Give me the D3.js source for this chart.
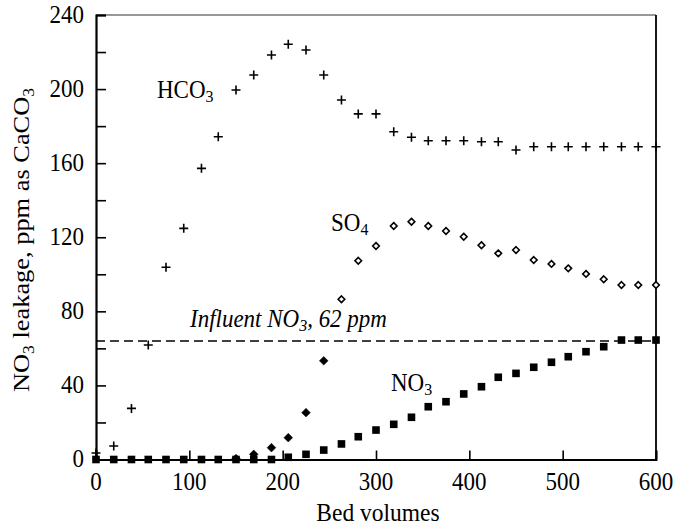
<!DOCTYPE html>
<html><head><meta charset="utf-8">
<script src="https://cdn.jsdelivr.net/npm/d3@7"></script>
<style>html,body{margin:0;padding:0;background:#fff;}svg{display:block;}</style>
</head><body>
<svg id="chart" width="676" height="529"></svg>
<script>
// ---- data ----
const bedVolumes = [0,19,38,56,75,94,113,131,150,169,188,206,225,244,263,281,300,319,338,356,375,394,413,431,450,469,488,506,525,544,563,581,600];
const hco3 = [3.5,7.3,27.6,61.8,103.8,124.8,157.2,174.3,199.5,207.6,218.4,224.2,221.1,207.6,194.1,186.6,186.6,177,174,172.1,172.1,172.1,171.6,171.6,167.1,168.9,168.9,168.9,168.9,168.9,168.9,168.9,168.9];
const so4 = [null,null,null,null,null,null,null,null,0.5,2.8,6.4,11.8,25.3,53.3,86.5,107.3,115.3,126.1,128.4,126.1,123.4,120.3,115.7,111.3,113.1,107.7,105.6,103.2,100.2,97.3,94.2,94.2,94.2];
const no3 = [0,0,0,0,0,0,0,0,0,0,0,1.2,2.8,5.1,8.4,12.3,15.9,19,22.8,28.5,31.2,35.4,39.3,44.4,46.5,49.8,52.5,55.5,58.2,60.9,64.5,64.5,64.5];
const influentLevel = 64;
const xTicks = [0,100,200,300,400,500,600];
const yTicks = [0,40,80,120,160,200,240];
const yMinorTicks = [20,60,100,140,180,220];
const so4FilledUntil = 244;

// ---- layout ----
const svg = d3.select("#chart");
const FONT = "'Liberation Serif','Times New Roman',serif";
const x = d3.scaleLinear().domain([0,600]).range([96,656]);
const y = d3.scaleLinear().domain([0,240]).range([459.5,15]);
const STR = 1.1; // vertical stretch of glyphs

function stretchedText(px, py, anchor, size) {
  return svg.append("g").attr("transform", `translate(${px},${py}) scale(1,${STR})`)
    .append("text").attr("text-anchor", anchor).attr("font-family", FONT)
    .attr("font-size", size).attr("fill", "#000");
}

// frame
svg.append("line").attr("x1",x(0)).attr("x2",x(600)).attr("y1",y(240)).attr("y2",y(240)).attr("stroke","#333").attr("stroke-width",1.2);
svg.append("line").attr("x1",x(600)).attr("x2",x(600)).attr("y1",y(240)).attr("y2",y(0)).attr("stroke","#000").attr("stroke-width",1.8);

// axes with inward ticks
const yAxis = d3.axisLeft(y).tickValues(yTicks.concat(yMinorTicks)).tickSize(-10).tickFormat("");
svg.append("g").attr("transform",`translate(${x(0)},0)`).call(yAxis)
  .call(g=>g.select(".domain").attr("stroke-width",2.2))
  .call(g=>g.selectAll(".tick line").attr("stroke-width",1.6));
const xAxis = d3.axisBottom(x).tickValues(xTicks).tickSize(-9).tickFormat("");
svg.append("g").attr("transform",`translate(0,${y(0)})`).call(xAxis)
  .call(g=>g.select(".domain").attr("stroke-width",1.8))
  .call(g=>g.selectAll(".tick line").attr("stroke-width",1.6));

// tick labels
yTicks.forEach(v => stretchedText(84, y(v)+7.5, "end", 23).text(v));
xTicks.forEach(v => stretchedText(x(v), 490, "middle", 23).text(v));

// axis titles
stretchedText(378, 521, "middle", 23.5).text("Bed volumes");
const yl = svg.append("text").attr("transform",`translate(29,240) scale(1,${STR}) rotate(-90)`)
  .attr("text-anchor","middle").attr("font-family",FONT).attr("font-size",24);
yl.append("tspan").text("NO");
yl.append("tspan").attr("font-size",16).attr("dy",5).text("3");
yl.append("tspan").attr("dy",-5).text(" leakage, ppm as CaCO");
yl.append("tspan").attr("font-size",16).attr("dy",5).text("3");

// influent dashed line
svg.append("line").attr("x1",x(0)).attr("x2",x(600)).attr("y1",y(influentLevel)).attr("y2",y(influentLevel))
  .attr("stroke","#000").attr("stroke-width",1.5).attr("stroke-dasharray","9,5");

// series
const idx = d3.range(bedVolumes.length);
// NO3 squares
svg.append("g").selectAll("rect").data(idx).join("rect")
  .attr("x", i => x(bedVolumes[i]) - 3.8).attr("y", i => y(no3[i]) - 3.8)
  .attr("width", 7.6).attr("height", 7.6).attr("fill", "#000");
// SO4 diamonds
svg.append("g").selectAll("path").data(idx.filter(i => so4[i] != null)).join("path")
  .attr("transform", i => `translate(${x(bedVolumes[i])},${y(so4[i])})`)
  .attr("d", i => bedVolumes[i] <= so4FilledUntil
      ? d3.symbol().type(d3.symbolDiamond2).size(48)()
      : d3.symbol().type(d3.symbolDiamond2).size(28)())
  .attr("fill", i => bedVolumes[i] <= so4FilledUntil ? "#000" : "#fff")
  .attr("stroke", "#000").attr("stroke-width", i => bedVolumes[i] <= so4FilledUntil ? 0.5 : 1.6);
// HCO3 plus
svg.append("g").selectAll("path").data(idx).join("path")
  .attr("transform", i => `translate(${x(bedVolumes[i])},${y(hco3[i])})`)
  .attr("d", "M-4.5,0H4.5M0,-4.5V4.5")
  .attr("stroke", "#000").attr("stroke-width", 1.6).attr("fill", "none");

// series labels
function subLabel(px, py, italic) {
  const t = stretchedText(px, py, "start", 23);
  if (italic) t.attr("font-style","italic");
  return t;
}
let t = subLabel(157, 98);
t.append("tspan").text("HCO"); t.append("tspan").attr("font-size",16).attr("dy",4).text("3");
t = subLabel(331, 231);
t.append("tspan").text("SO"); t.append("tspan").attr("font-size",16).attr("dy",4).text("4");
t = subLabel(391, 391);
t.append("tspan").text("NO"); t.append("tspan").attr("font-size",16).attr("dy",4).text("3");
t = subLabel(190, 327, true);
t.append("tspan").text("Influent NO"); t.append("tspan").attr("font-size",16).attr("dy",4).text("3");
t.append("tspan").attr("dy",-4).text(", 62 ppm");
</script>
</body></html>
